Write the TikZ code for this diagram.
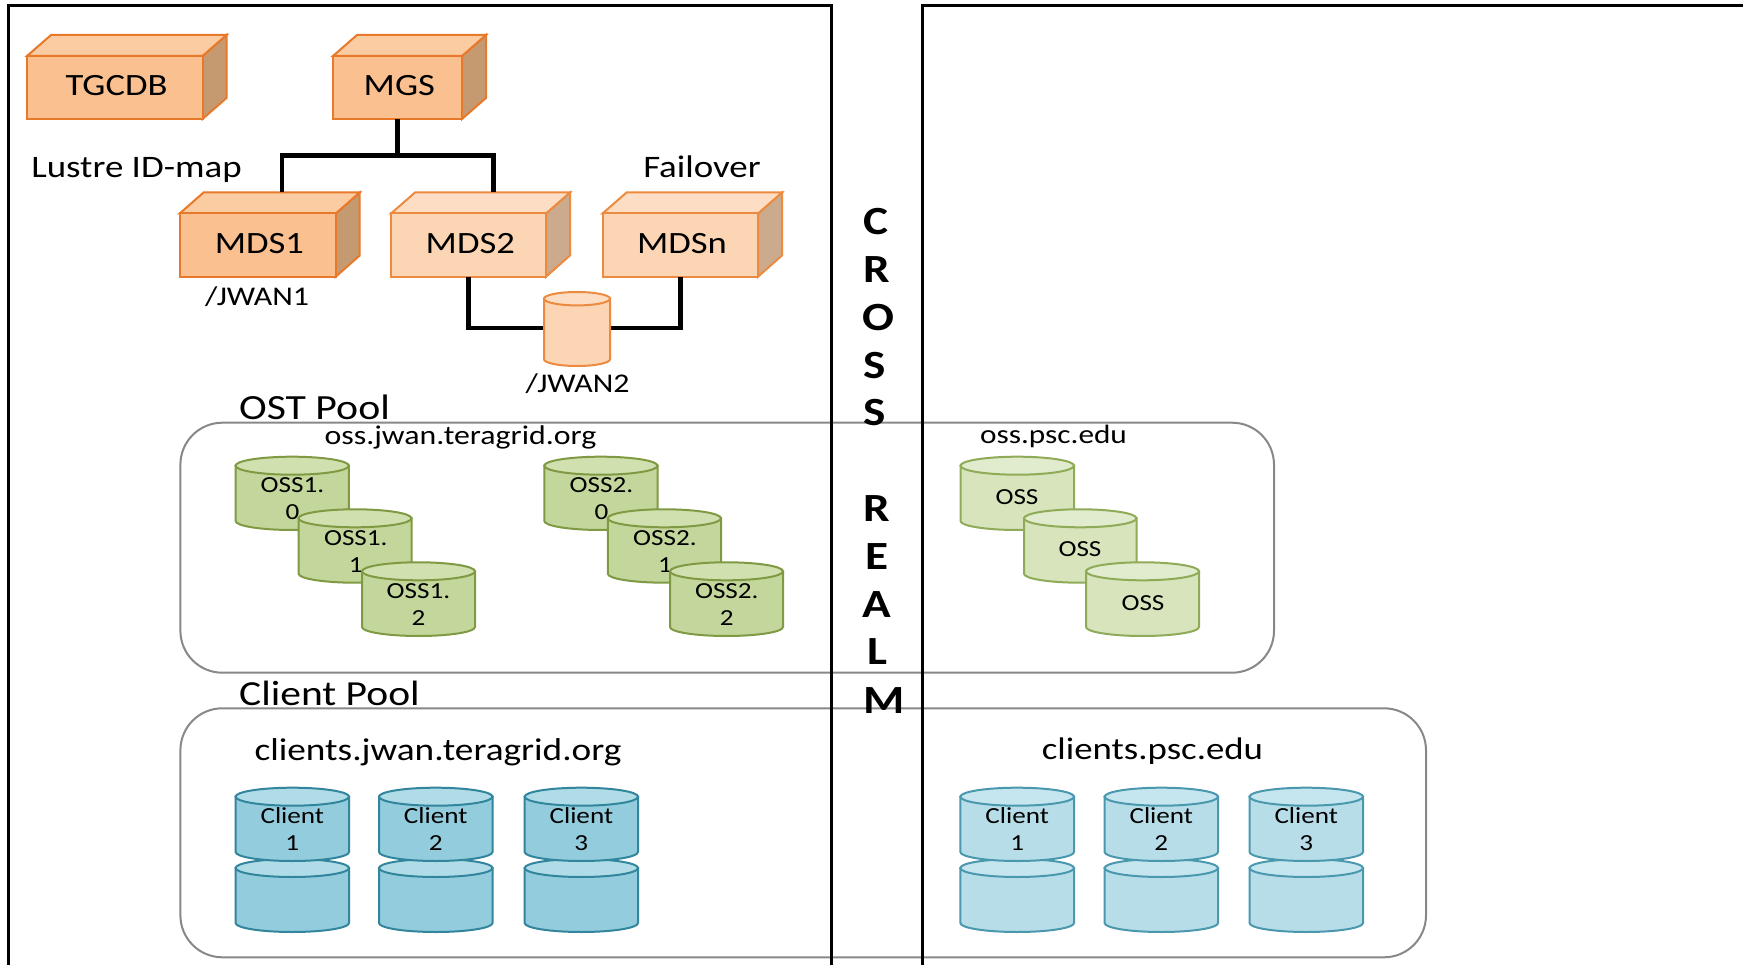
\documentclass[tikz,border=0pt]{standalone}
\usepackage{fontspec}
\setmainfont{Carlito}[FakeStretch=1.18]
\newcommand{\fsz}[1]{\fontsize{#1}{#1}\selectfont}
\newcommand{\cubox}[8]{% name, x0, y0, x1, y1, style prefix, fontsize, text
  \fill[fill=#6side,draw=#6edge,cuedge] (#4,#3) -- ++(24,-21) -- ++(0,63) -- (#4,#5) -- cycle;
  \fill[fill=#6top,draw=#6edge,cuedge] (#2,#3) -- ++(24,-21) -- (#4+24,#3-21) -- (#4,#3) -- cycle;
  \node[fill=#6front,draw=#6edge,cuedge,text=black,anchor=north west,outer sep=0pt,minimum width=#4pt-#2pt,minimum height=#5pt-#3pt,inner sep=0pt] (#1) at (#2,#3) {};
  \node[inner sep=0pt,text=black,font=\fsz{#7},xshift=1.8pt,yshift=2pt] at (#1.center) {#8};
}
\newcommand{\cyl}[7]{% name,x0,ytop,x1,ybot,ry,colour prefix
  \coordinate (#1) at ({(#2+#4)/2},{(#3+#5)/2});
  \filldraw[fill=#7body,draw=#7edge,cyledge] (#2,#3+#6) -- (#2,#5-#6) arc[start angle=180,end angle=360,x radius={(#4-#2)/2},y radius=-#6] -- (#4,#3+#6) -- cycle;
  \filldraw[fill=#7lid,draw=#7edge,cyledge] ({(#2+#4)/2},#3+#6) ellipse[x radius={(#4-#2)/2},y radius=#6];
}
\definecolor{oAside}{HTML}{C69A70}\definecolor{oAtop}{HTML}{FBCBA2}\definecolor{oAfront}{HTML}{FAC090}\definecolor{oAedge}{HTML}{E8792A}
\definecolor{oBside}{HTML}{CBAA8E}\definecolor{oBtop}{HTML}{FDDEC4}\definecolor{oBfront}{HTML}{FCD5B5}\definecolor{oBedge}{HTML}{EC8B3F}
\definecolor{oBbody}{HTML}{FCD5B5}\definecolor{oBlid}{HTML}{FDDEC4}
\definecolor{gAbody}{HTML}{C3D69B}\definecolor{gAlid}{HTML}{D0E0AF}\definecolor{gAedge}{HTML}{7F9A42}
\definecolor{gBbody}{HTML}{D7E4BC}\definecolor{gBlid}{HTML}{E1EBCD}\definecolor{gBedge}{HTML}{8FAB58}
\definecolor{bAbody}{HTML}{93CDDD}\definecolor{bAlid}{HTML}{B0DCE7}\definecolor{bAedge}{HTML}{31859C}
\definecolor{bBbody}{HTML}{B7DEE8}\definecolor{bBlid}{HTML}{C5E6EE}\definecolor{bBedge}{HTML}{4A98AE}
\definecolor{poolgrey}{HTML}{888888}
\tikzset{
  cuedge/.style={line width=2pt,line join=miter},
  cyledge/.style={line width=2pt},
  frameline/.style={line width=3pt,draw=black},
  busline/.style={line width=4.6pt,draw=black,line join=miter},
  pool/.style={line width=2pt,draw=poolgrey,rounded corners=42pt},
  lbl/.style={anchor=base,inner sep=0pt,text=black,yshift=-2.2pt},
  cyltext/.style={inner sep=0pt,align=center,text=black,font=\fontsize{23}{26.7}\selectfont},
  crosstext/.style={inner sep=0pt,text=black,font=\fontsize{40}{40}\selectfont\bfseries},
}
\begin{document}
\begin{tikzpicture}[x=1pt,y=-1pt]
\useasboundingbox (0,0) rectangle (1743,965);
\fill[white] (0,0) rectangle (1743,965);
% pools
\draw[pool] (180.4,422.7) rectangle (1274,672.7);
\draw[pool] (180.4,708.3) rectangle (1426,957.3);
% frames
\draw[frameline] (8,965) -- (8,5.7) -- (831.5,5.7) -- (831.5,965);
\draw[frameline] (922.4,965) -- (922.4,5.7) -- (1743,5.7);
% cuboids
\cubox{tgcdb}{27}{56}{202.5}{119}{oA}{31}{TGCDB}
\cubox{mgs}{333}{56}{462}{119}{oA}{31}{MGS}
\cubox{mdsa}{179.6}{213.5}{335.7}{276.7}{oA}{31}{MDS1}
\cubox{mdsb}{391}{213.5}{546}{276.7}{oB}{31}{MDS2}
\cubox{mdsn}{602.5}{213.5}{758}{276.7}{oB}{31}{MDSn}
\coordinate (mdsatop) at (282,192.5);
\coordinate (mdsbtop) at (493.4,192.5);
\coordinate (busy) at (397.5,155.7);
\draw[busline] (mdsatop) |- (busy) -| (mdsbtop);
\draw[busline] (mgs.south) -- (mgs.south |- busy);
% shared disk
\coordinate (jleft) at (544,328);
\coordinate (jright) at (611,328);
\draw[busline] (mdsb.south) |- (jleft);
\draw[busline] (mdsn.south) |- (jright);
\cyl{jwan}{544}{292}{610}{366}{6.7}{oB}
% labels
\node[lbl,font=\fsz{31.3}] (idmap) at (136.5,175) {Lustre ID-map};
\node[lbl,font=\fsz{31.3}] (failover) at (702,175) {Failover};
\node[lbl,font=\fsz{27}] (jwana) at (257,303) {/JWAN1};
\node[lbl,font=\fsz{27}] (jwanb) at (577.5,390) {/JWAN2};
\node[lbl,font=\fsz{35.4}] (ostpool) at (314.5,417) {OST Pool};
\node[lbl,font=\fsz{27}] (ossj) at (460.5,442.7) {oss.jwan.teragrid.org};
\node[lbl,font=\fsz{26.5}] (ossp) at (1053.5,441) {oss.psc.edu};
\node[lbl,font=\fsz{35.2}] (clientpool) at (329.5,703) {Client Pool};
\node[lbl,font=\fsz{31.6}] (clij) at (438,758) {clients.jwan.teragrid.org};
\node[lbl,font=\fsz{31.2}] (clip) at (1152.5,757.7) {clients.psc.edu};
% OSS group 1
\cyl{ossaa}{235.6}{456.7}{348.8}{530}{9}{gA}
\node[cyltext] at (292.4,498.5) {OSS1.\\0};
\cyl{ossab}{298.6}{509.3}{411.5}{582.7}{9}{gA}
\node[cyltext] at (355.8,551.5) {OSS1.\\1};
\cyl{ossac}{362}{562.3}{475}{636}{9}{gA}
\node[cyltext] at (418.5,604.5) {OSS1.\\2};
% OSS group 2
\cyl{ossba}{544.3}{456.7}{657.5}{530}{9}{gA}
\node[cyltext] at (601.5,498.5) {OSS2.\\0};
\cyl{ossbb}{607.8}{509.3}{721}{582.7}{9}{gA}
\node[cyltext] at (665,551.5) {OSS2.\\1};
\cyl{ossbc}{670}{562.3}{783}{636}{9}{gA}
\node[cyltext] at (726.8,604.5) {OSS2.\\2};
% OSS right
\cyl{ossca}{960.5}{456.7}{1074}{530}{9}{gB}
\node[cyltext] at (1017,497) {OSS};
\cyl{osscb}{1024}{509.3}{1136.5}{582.7}{9}{gB}
\node[cyltext] at (1080,549.5) {OSS};
\cyl{osscc}{1086}{562.3}{1199}{636}{9}{gB}
\node[cyltext] at (1143,603) {OSS};
% clients left
\foreach \xa/\xb/\n in {235.6/349/1,379/492.5/2,524.7/638/3}{
  \cyl{cla\n}{\xa}{859}{\xb}{932}{9}{bA}
  \cyl{clb\n}{\xa}{787.7}{\xb}{861}{9}{bA}
  \node[cyltext] at ({(\xa+\xb)/2},829) {Client\\\n};
}
% clients right
\foreach \xa/\xb/\n in {960.4/1074/1,1104.6/1218/2,1249.5/1363/3}{
  \cyl{clc\n}{\xa}{859}{\xb}{932}{9}{bB}
  \cyl{cld\n}{\xa}{787.7}{\xb}{861}{9}{bB}
  \node[cyltext] at ({(\xa+\xb)/2},829) {Client\\\n};
}
% cross realm
\node[crosstext] at (876,222) {C};
\node[crosstext] at (877,269.5) {R};
\node[crosstext] at (878,318) {O};
\node[crosstext] at (875,365.6) {S};
\node[crosstext] at (875,413) {S};
\node[crosstext] at (877,509) {R};
\node[crosstext] at (877,557) {E};
\node[crosstext] at (877,605) {A};
\node[crosstext] at (877,652) {L};
\node[crosstext] at (884,700.5) {M};
\end{tikzpicture}
\end{document}
